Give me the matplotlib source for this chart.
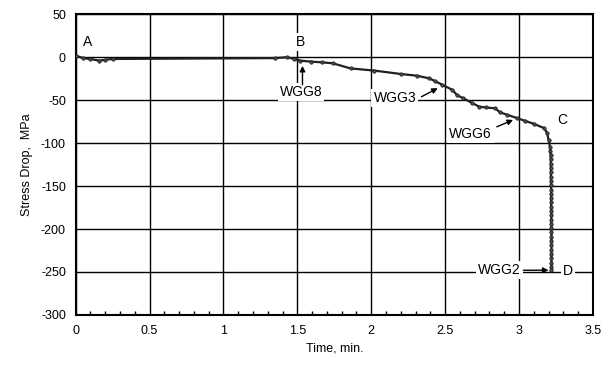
import matplotlib
matplotlib.use("Agg")
import matplotlib.pyplot as plt
from matplotlib.ticker import MultipleLocator

plt.rcParams['font.family'] = ['Liberation Sans', 'DejaVu Sans']
plt.rcParams['axes.unicode_minus'] = False

# Data
time_min = [0.00, 0.05, 0.10, 0.16, 0.20, 0.25, 1.35, 1.43, 1.48, 1.52,
            1.59, 1.67, 1.74, 1.86, 2.02, 2.20, 2.31, 2.39, 2.43, 2.48,
            2.55, 2.58, 2.62, 2.68, 2.73, 2.78, 2.84, 2.87, 2.92, 2.99,
            3.04, 3.10, 3.17, 3.19, 3.20, 3.21, 3.213, 3.214, 3.215, 3.215,
            3.216, 3.216, 3.216, 3.217, 3.217, 3.217, 3.218, 3.218, 3.218,
            3.218, 3.219, 3.219, 3.219, 3.219, 3.220, 3.220, 3.220, 3.220,
            3.220, 3.220, 3.220, 3.220, 3.220, 3.220, 3.220]
stress_mpa = [2, -1, -2, -4, -3, -2, -1, 0, -2, -4,
              -5, -6, -7, -13, -15.5, -19.5, -21.5, -24.5, -27.5, -32,
              -38, -44, -47.5, -53, -57.5, -58.5, -59.5, -64, -67, -71,
              -74, -77.5, -82.5, -88, -96, -104, -109, -114, -119, -124,
              -129, -134, -139, -144, -149, -154, -159, -164, -169,
              -174, -179, -184, -189, -194, -199, -204, -209, -214,
              -219, -224, -229, -234, -239, -244, -248]

x_ticks = [0, 0.5, 1, 1.5, 2, 2.5, 3, 3.5]
x_tick_labels = ['0', '0.5', '1', '1.5', '2', '2.5', '3', '3.5']
y_ticks = [50, 0, -50, -100, -150, -200, -250, -300]

fig = plt.figure(figsize=(6.15, 3.67), dpi=100)
ax = fig.add_axes([0.123, 0.142, 0.841, 0.819])

ax.set_xlim(0, 3.5)
ax.set_ylim(-300, 50)
ax.set_xticks(x_ticks)
ax.set_xticklabels(x_tick_labels)
ax.set_yticks(y_ticks)
ax.xaxis.set_minor_locator(MultipleLocator(0.1))
ax.tick_params(axis='both', which='major', length=0, labelsize=9, pad=7)
ax.tick_params(axis='x', which='minor', direction='in', length=3, width=1, color='black')
ax.grid(True, which='major', color='black', linewidth=1.0)
ax.set_axisbelow(True)
for s in ax.spines.values():
    s.set_linewidth(1.5)
    s.set_color('black')

ax.plot(time_min, stress_mpa, color='#202020', linewidth=1.6,
        marker='o', markersize=2.4, markerfacecolor='#505050',
        markeredgecolor='#202020', markeredgewidth=0.6, zorder=3)

ax.set_xlabel('Time, min.', fontsize=9, labelpad=4)
ax.set_ylabel('Stress Drop,  MPa', fontsize=9, labelpad=6)

box = dict(facecolor='white', edgecolor='none', pad=1.5)
tk = dict(fontsize=10, ha='center', va='center', zorder=4)

ax.text(0.08, 18, 'A', bbox=box, **tk)
ax.text(1.52, 18, 'B', bbox=box, **tk)
ax.text(3.29, -73, 'C', bbox=box, **tk)
ax.text(3.33, -249, 'D', bbox=box, **tk)

arrow = dict(arrowstyle='-|>', color='black', lw=1.0, mutation_scale=8, shrinkA=0, shrinkB=0)

ax.text(1.525, -40, 'WGG8', bbox=box, **tk)
ax.annotate('', xy=(1.535, -10), xytext=(1.535, -32), arrowprops=arrow, zorder=5)
ax.text(2.16, -47, 'WGG3', bbox=box, **tk)
ax.annotate('', xy=(2.45, -36), xytext=(2.34, -46), arrowprops=arrow, zorder=5)
ax.text(2.67, -89, 'WGG6', bbox=box, **tk)
ax.annotate('', xy=(2.96, -73), xytext=(2.85, -81), arrowprops=arrow, zorder=5)
ax.text(2.87, -248, 'WGG2', bbox=box, **tk)
ax.annotate('', xy=(3.20, -248), xytext=(3.03, -248), arrowprops=arrow, zorder=5)

fig.savefig('out.png', dpi=100)
